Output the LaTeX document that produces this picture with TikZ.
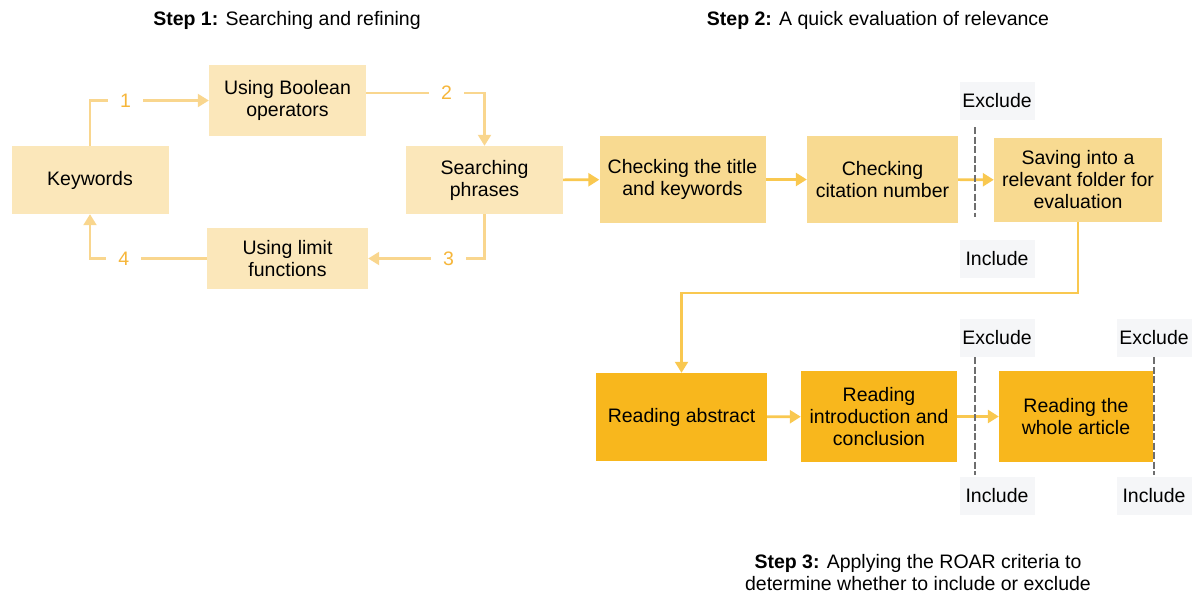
\documentclass[tikz,border=0pt]{standalone}
\usepackage{fontspec}
\setmainfont{Liberation Sans}
\usetikzlibrary{arrows.meta}
\definecolor{palebox}{HTML}{FBE7BA}
\definecolor{midbox}{HTML}{F8DA91}
\definecolor{deepbox}{HTML}{F8B71D}
\definecolor{palearrow}{HTML}{F9D68E}
\definecolor{midarrow}{HTML}{F9C850}
\definecolor{numcol}{HTML}{F6B63A}
\definecolor{tagfill}{HTML}{F5F6F8}
\definecolor{cutline}{HTML}{6E6E6E}
\tikzset{
  every node/.style={font=\fontsize{19.5}{22}\selectfont, align=center, inner sep=0pt},
  basebox/.style={minimum width=#1, anchor=center},
  stepone/.style={fill=palebox, minimum height=68pt},
  steptwo/.style={fill=midbox, minimum height=87pt},
  stepthree/.style={fill=deepbox, minimum height=90pt},
  looparrow/.style={draw=palearrow, line width=2.2pt, -{Triangle[width=13pt,length=11pt]}},
  flowarrow/.style={draw=midarrow, line width=2.6pt, -{Triangle[width=13pt,length=11pt]}},
  numtag/.style={fill=white, text=numcol, inner xsep=12pt, inner ysep=4pt},
  decision/.style={fill=tagfill, minimum width=75pt, minimum height=38pt},
  cut/.style={draw=cutline, line width=1.3pt, dash pattern=on 7pt off 2.5pt},
}
\begin{document}
\begin{tikzpicture}[x=1pt, y=-1pt]
\useasboundingbox (0,0) rectangle (1194,597);

% titles
\node (t1) at (287,20) {\textbf{Step 1:} Searching and refining};
\node (t2) at (878,20) {\textbf{Step 2:} A quick evaluation of relevance};
\node (t3) at (918,573) {\textbf{Step 3:} Applying the ROAR criteria to\\determine whether to include or exclude};

% step 1 cycle
\node[stepone, basebox=157pt] (kw) at (90,180) {Keywords};
\node[stepone, basebox=157pt, minimum height=71pt] (bool) at (287.5,100.5) {Using Boolean\\operators};
\node[stepone, basebox=157pt] (search) at (484.5,180) {Searching\\phrases};
\node[stepone, basebox=161pt, minimum height=61pt] (limit) at (287.5,258.5) {Using limit\\functions};

\draw[looparrow] (kw.north) |- node[numtag, pos=0.65] {1} (bool.west);
\draw[looparrow] ([yshift=7.5pt]bool.east) -| node[numtag, pos=0.34] {2} (search.north);
\draw[looparrow] (search.south) |- node[numtag, pos=0.655] {3} (limit.east);
\draw[looparrow] (limit.west) -| node[numtag, pos=0.355] {4} (kw.south);

% step 2 chain
\node[steptwo, basebox=166pt] (title) at (682.5,179.5) {Checking the title\\and keywords};
\node[steptwo, basebox=151pt] (cite) at (882.5,179.5) {Checking\\citation number};
\node[steptwo, basebox=168pt, minimum height=84pt] (save) at (1078,180) {Saving into a\\relevant folder for\\evaluation};

\draw[flowarrow] (search) -- (title);
\draw[flowarrow] (title) -- (cite);
\draw[flowarrow] (cite) -- (save);

% step 3 chain
\node[stepthree, basebox=171pt, minimum height=88pt] (abstract) at (681.5,417) {Reading abstract};
\node[stepthree, basebox=156pt, minimum height=91pt] (intro) at (879,416.5) {Reading\\introduction and\\conclusion};
\node[stepthree, basebox=154pt, minimum height=91pt] (whole) at (1076,416.5) {Reading the\\whole article};

\coordinate (bend) at (1078,293);
\draw[flowarrow, line width=2.2pt] (save.south) -- (save.south |- bend) -| (abstract.north);
\draw[flowarrow] (abstract) -- (intro);
\draw[flowarrow] (intro) -- (whole);

% include / exclude cut-offs
\node[decision] (ex1) at (997,100.5) {Exclude};
\node[decision] (in1) at (997,258.5) {Include};
\node[decision] (ex2) at (997,337.5) {Exclude};
\node[decision] (in2) at (997,495.5) {Include};
\node[decision] (ex3) at (1154,337.5) {Exclude};
\node[decision] (in3) at (1154,495.5) {Include};

\coordinate (c1top) at (975,127);
\coordinate (c1bot) at (975,217);
\coordinate (c2top) at (975,357);
\coordinate (c2bot) at (975,475);
\coordinate (c3top) at (1154,357);
\coordinate (c3bot) at (1154,475);
\draw[cut] (c1top) -- (c1bot);
\draw[cut] (c2top) -- (c2bot);
\draw[cut] (c3top) -- (c3bot);
\end{tikzpicture}
\end{document}
